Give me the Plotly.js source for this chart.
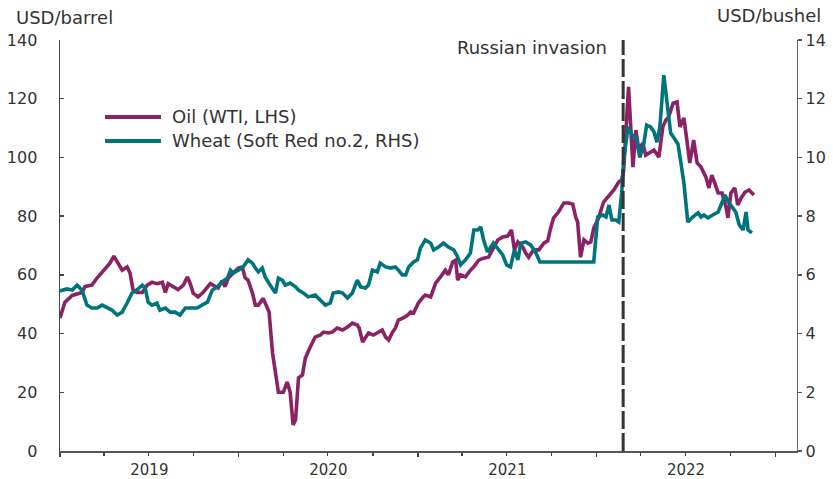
<!DOCTYPE html>
<html>
<head>
<meta charset="utf-8">
<script src="https://cdn.plot.ly/plotly-3.0.1.min.js"></script>
<style>html,body{margin:0;padding:0;background:#fff;}#chart{width:833px;height:479px;}</style>
</head>
<body>
<div id="chart"></div>
<script>
// Oil (WTI), USD/barrel, left axis
const oilDates = ["2019-01-01","2019-01-11","2019-01-26","2019-02-15","2019-02-21","2019-03-07","2019-03-18","2019-03-28","2019-04-07","2019-04-13","2019-04-21","2019-04-30","2019-05-08","2019-05-18","2019-05-24","2019-05-30","2019-06-07","2019-06-18","2019-06-28","2019-07-08","2019-07-18","2019-07-29","2019-08-04","2019-08-10","2019-08-20","2019-08-30","2019-09-10","2019-09-18","2019-09-24","2019-09-30","2019-10-10","2019-10-20","2019-11-04","2019-11-14","2019-11-20","2019-11-28","2019-12-04","2019-12-11","2019-12-21","2019-12-31",
"2020-01-08","2020-01-14","2020-01-20","2020-01-29","2020-02-04","2020-02-10","2020-02-20","2020-02-26","2020-03-03","2020-03-10","2020-03-16","2020-03-22","2020-04-01","2020-04-09","2020-04-15","2020-04-21","2020-04-26","2020-05-02","2020-05-10","2020-05-16","2020-05-26","2020-06-05","2020-06-16","2020-06-22","2020-07-02","2020-07-10","2020-07-20","2020-07-31","2020-08-10","2020-08-20","2020-08-30","2020-09-03","2020-09-10","2020-09-16","2020-09-22","2020-10-02","2020-10-12","2020-10-20","2020-10-27","2020-11-02","2020-11-10","2020-11-16","2020-11-22","2020-12-02","2020-12-11","2020-12-17","2020-12-23",
"2021-01-02","2021-01-12","2021-01-16","2021-01-27","2021-02-06","2021-02-16","2021-02-26","2021-03-04","2021-03-13","2021-03-19","2021-03-23","2021-03-29","2021-04-08","2021-04-18","2021-04-25","2021-05-05","2021-05-15","2021-05-25","2021-06-02","2021-06-13","2021-06-23","2021-07-03","2021-07-11","2021-07-17","2021-07-24","2021-08-03","2021-08-09","2021-08-15","2021-08-25","2021-09-05","2021-09-15","2021-09-23","2021-09-29","2021-10-05","2021-10-15","2021-10-26","2021-11-05","2021-11-13","2021-11-19","2021-11-23","2021-11-29","2021-12-06","2021-12-14","2021-12-20","2021-12-26",
"2022-01-05","2022-01-15","2022-01-26","2022-02-05","2022-02-15","2022-02-21","2022-02-25","2022-03-07","2022-03-16","2022-03-22","2022-03-28","2022-04-05","2022-04-11","2022-04-18","2022-04-28","2022-05-08","2022-05-16","2022-05-22","2022-05-28","2022-06-06","2022-06-14","2022-06-20","2022-06-28","2022-07-04","2022-07-10","2022-07-18","2022-07-25","2022-08-02","2022-08-12","2022-08-18","2022-08-24","2022-08-30","2022-09-06","2022-09-14","2022-09-22","2022-09-26","2022-10-02","2022-10-10","2022-10-16","2022-10-23","2022-10-31","2022-11-08","2022-11-18"];
const oilValues = [45.3,50.7,53,54,56,56.5,59,61,63,64,66.4,64,61.6,62.7,60.6,55,54,54,56.5,57.5,57,57.5,54,57,56,55,56.5,59.3,57,53.8,52.5,54,57,56,55.5,58,56,59,60.6,62.3,
62.7,59,58.2,53.8,49.7,49.7,52,49.7,47.3,33.4,26.6,20,20,23.5,20,8.9,10.6,24.9,25.9,31.7,35.4,38.8,39.5,40.5,40.2,40.5,41.9,41.2,42.2,43.6,42.9,41.9,37.1,38.8,40.2,39.5,40.5,41.2,38.8,37.8,40.5,41.9,44.6,45.3,46.3,47.3,47,
50.5,52.5,53.1,52.5,57.2,59.3,61.6,60,64.4,65,58.2,60,59.3,61.6,62.7,65,65.7,66,68.5,71.9,72.9,73.2,75.3,68.5,71.2,69.5,67.4,66,68.5,68.5,70.8,71.6,76,79.4,81.4,84.5,84.5,84.1,79.7,78,66,71.9,70.8,71.2,75.9,
79.4,84.8,87.2,88.9,91.6,92.3,95.7,124,96.7,109.3,102.5,104.9,100.8,101.5,102.5,100.1,110.4,112.7,113.8,118.5,118.9,110.4,113.4,105.9,98.1,105.9,98.1,96.7,93.3,89.6,94,91.3,87.9,87.9,83.1,79.4,87.9,89.6,83.8,86.2,88.2,88.9,87.2];

// Wheat (Soft Red no.2), USD/bushel, right axis
const wheatDates = ["2019-01-01","2019-01-15","2019-01-26","2019-02-05","2019-02-15","2019-02-25","2019-03-07","2019-03-18","2019-03-28","2019-04-07","2019-04-17","2019-04-28","2019-05-08","2019-05-18","2019-05-28","2019-06-07","2019-06-18","2019-06-24","2019-06-30","2019-07-08","2019-07-18","2019-07-24","2019-08-04","2019-08-14","2019-08-24","2019-09-03","2019-09-14","2019-09-24","2019-10-08","2019-10-18","2019-10-29","2019-11-08","2019-11-18","2019-11-28","2019-12-09","2019-12-15","2019-12-21","2019-12-31",
"2020-01-10","2020-01-20","2020-01-29","2020-02-04","2020-02-10","2020-02-18","2020-02-24","2020-03-05","2020-03-16","2020-03-22","2020-03-30","2020-04-05","2020-04-15","2020-04-26","2020-05-02","2020-05-12","2020-05-22","2020-06-05","2020-06-16","2020-06-26","2020-07-06","2020-07-12","2020-07-23","2020-07-31","2020-08-10","2020-08-20","2020-08-30","2020-09-06","2020-09-16","2020-09-22","2020-09-30","2020-10-10","2020-10-16","2020-10-27","2020-11-06","2020-11-16","2020-11-22","2020-11-30","2020-12-07","2020-12-13","2020-12-23","2020-12-31",
"2021-01-06","2021-01-16","2021-01-27","2021-02-02","2021-02-12","2021-02-22","2021-03-04","2021-03-15","2021-03-23","2021-03-29","2021-04-08","2021-04-18","2021-04-25","2021-05-03","2021-05-09","2021-05-15","2021-05-23","2021-05-29","2021-06-04","2021-06-15","2021-06-23","2021-07-01","2021-07-09","2021-07-17","2021-07-24","2021-07-30","2021-08-09","2021-08-19","2021-08-29","2021-09-07","2021-10-15","2021-11-20","2021-12-26",
"2022-01-03","2022-01-13","2022-01-20","2022-01-26","2022-02-01","2022-02-09","2022-02-15","2022-02-21","2022-02-25","2022-03-06","2022-03-14","2022-03-22","2022-03-30","2022-04-07","2022-04-13","2022-04-21","2022-04-28","2022-05-04","2022-05-10","2022-05-18","2022-05-24","2022-06-01","2022-06-08","2022-06-16","2022-06-22","2022-06-28","2022-07-06","2022-07-16","2022-07-27","2022-08-02","2022-08-08","2022-08-16","2022-08-26","2022-09-06","2022-09-16","2022-09-20","2022-09-28","2022-10-06","2022-10-12","2022-10-19","2022-10-27","2022-11-02","2022-11-06","2022-11-14"];
const wheatValues = [5.45,5.52,5.48,5.65,5.48,4.97,4.87,4.87,4.97,4.9,4.8,4.63,4.73,5.04,5.38,5.48,5.65,5.55,5.07,4.97,5.04,4.8,4.87,4.73,4.73,4.63,4.87,4.87,4.87,4.97,5.07,5.48,5.59,5.76,5.89,6.16,6.06,6.16,
6.27,6.51,6.4,6.23,6.1,6.23,5.93,5.65,5.38,5.89,5.82,5.65,5.72,5.59,5.48,5.38,5.25,5.31,5.14,4.97,5.04,5.38,5.42,5.38,5.21,5.38,5.82,5.59,5.55,5.65,6.16,6.1,6.4,6.27,6.23,6.27,6.16,6.0,6.0,6.27,6.44,6.51,
6.91,7.19,7.08,6.85,6.95,7.08,6.95,6.85,6.61,6.34,6.51,6.74,7.53,7.53,7.63,7.19,6.78,6.95,7.08,6.85,6.68,6.34,6.27,6.85,6.51,7.08,7.12,7.02,6.78,6.44,6.44,6.44,6.44,
7.97,8.04,7.97,8.38,7.87,7.87,7.8,8.79,9.91,11.04,10.76,10.69,10.0,10.45,11.1,11.04,10.87,10.52,11.04,12.8,11.96,10.83,10.66,10.45,9.81,9.13,7.8,7.97,8.11,7.97,8.04,7.94,8.04,8.14,8.55,8.72,8.45,8.28,8.14,7.7,7.53,8.14,7.53,7.43];

const invasionDate = "2022-02-24";
const seriesNames = ["Oil (WTI, LHS)", "Wheat (Soft Red no.2, RHS)"];
const seriesColors = ["#8B2266", "#00747C"];

const txt = "#333333";
const font = "DejaVu Sans, sans-serif";

const traces = [
  {x: oilDates, y: oilValues, type: "scatter", mode: "lines", name: seriesNames[0], yaxis: "y",
   line: {color: seriesColors[0], width: 3.6}, showlegend: false},
  {x: wheatDates, y: wheatValues, type: "scatter", mode: "lines", name: seriesNames[1], yaxis: "y2",
   line: {color: seriesColors[1], width: 3.6}, showlegend: false}
];

const legX0 = 0.061, legX1 = 0.137, legTextX = 0.149;
const legY = [0.8127, 0.7543];

const layout = {
  width: 833, height: 479,
  margin: {l: 60, r: 36, t: 40, b: 28},
  paper_bgcolor: "#fff", plot_bgcolor: "#fff",
  font: {family: font, size: 16, color: txt},
  showlegend: false,
  xaxis: {
    type: "date", range: ["2019-01-01", "2023-02-14"],
    tick0: "2019-01-01", dtick: "M12", tickformat: "%Y", ticklabelmode: "period",
    ticks: "outside", ticklen: 4, tickwidth: 1.3, tickcolor: "#444",
    minor: {dtick: "M3", ticks: "outside", ticklen: 3, tickwidth: 1.2, tickcolor: "#444"},
    showline: true, linecolor: "#555", linewidth: 1.6,
    showgrid: false, zeroline: false,
    tickfont: {family: font, size: 15, color: txt}
  },
  yaxis: {
    range: [0, 140], dtick: 20, ticks: "inside", ticklen: 4, tickcolor: "#444", tickwidth: 1.3,
    showline: true, linecolor: "#444", linewidth: 1.4,
    showgrid: false, zeroline: false, ticklabelstandoff: 18,
    tickfont: {family: font, size: 16, color: txt}
  },
  yaxis2: {
    range: [0, 14], dtick: 2, overlaying: "y", side: "right",
    ticks: "outside", ticklen: 4, tickcolor: "#555", tickwidth: 1.3,
    showline: true, linecolor: "#666", linewidth: 1.4,
    showgrid: false, zeroline: false,
    tickfont: {family: font, size: 16, color: txt}
  },
  shapes: [
    {type: "line", xref: "x", yref: "paper", x0: invasionDate, x1: invasionDate, y0: 0, y1: 1,
     line: {color: "#333", width: 3, dash: "18px,4px"}},
    {type: "line", xref: "paper", yref: "paper", x0: legX0, x1: legX1, y0: legY[0], y1: legY[0],
     line: {color: seriesColors[0], width: 4}},
    {type: "line", xref: "paper", yref: "paper", x0: legX0, x1: legX1, y0: legY[1], y1: legY[1],
     line: {color: seriesColors[1], width: 4}}
  ],
  annotations: [
    {text: "USD/barrel", xref: "paper", yref: "paper", x: 0, y: 1.0, xanchor: "left", yanchor: "bottom",
     xshift: -46, yshift: 10, showarrow: false, font: {family: font, size: 18, color: txt}},
    {text: "USD/bushel", xref: "paper", yref: "paper", x: 1.035, y: 1.0, xanchor: "right", yanchor: "bottom",
     yshift: 12, showarrow: false, font: {family: font, size: 18, color: txt}},
    {text: "Russian invasion", xref: "x", yref: "paper", x: invasionDate, y: 1.0, xanchor: "right", yanchor: "top",
     xshift: -14, yshift: 5, showarrow: false, font: {family: font, size: 18, color: txt}},
    {text: seriesNames[0], xref: "paper", yref: "paper", x: legTextX, y: legY[0], xanchor: "left", yanchor: "middle",
     showarrow: false, font: {family: font, size: 18, color: txt}},
    {text: seriesNames[1], xref: "paper", yref: "paper", x: legTextX, y: legY[1], xanchor: "left", yanchor: "middle",
     showarrow: false, font: {family: font, size: 18, color: txt}}
  ]
};

Plotly.newPlot("chart", traces, layout, {staticPlot: true, displayModeBar: false});
</script>
</body>
</html>
